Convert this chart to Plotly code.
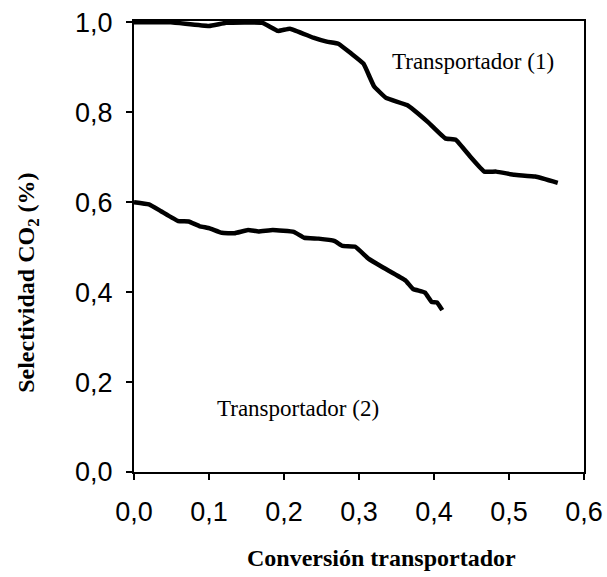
import plotly.graph_objects as go

# Transportador (1)
x1 = [0.0, 0.049, 0.10, 0.123, 0.171, 0.192, 0.208, 0.239, 0.257, 0.273, 0.290, 0.306,
      0.320, 0.336, 0.364, 0.392, 0.415, 0.429, 0.449, 0.467, 0.483, 0.507, 0.535, 0.565]
y1 = [1.0, 1.0, 0.992, 0.999, 0.999, 0.981, 0.986, 0.966, 0.957, 0.952, 0.930, 0.908,
      0.858, 0.832, 0.816, 0.778, 0.742, 0.739, 0.700, 0.668, 0.668, 0.661, 0.657, 0.643]

# Transportador (2)
x2 = [0.0, 0.020, 0.036, 0.059, 0.073, 0.087, 0.101, 0.117, 0.134, 0.152, 0.166, 0.185,
      0.213, 0.227, 0.246, 0.267, 0.278, 0.295, 0.313, 0.334, 0.362, 0.372, 0.388, 0.397,
      0.404, 0.411]
y2 = [0.600, 0.595, 0.580, 0.558, 0.557, 0.547, 0.542, 0.532, 0.531, 0.538, 0.535, 0.538,
      0.534, 0.521, 0.519, 0.514, 0.503, 0.501, 0.474, 0.453, 0.426, 0.407, 0.399, 0.378,
      0.377, 0.360]

xticks = [0.0, 0.1, 0.2, 0.3, 0.4, 0.5, 0.6]
xticklabels = ["0,0", "0,1", "0,2", "0,3", "0,4", "0,5", "0,6"]
yticks = [0.0, 0.2, 0.4, 0.6, 0.8, 1.0]
yticklabels = ["0,0", "0,2", "0,4", "0,6", "0,8", "1,0"]

fig = go.Figure()
for xs, ys in [(x1, y1), (x2, y2)]:
    fig.add_trace(go.Scatter(x=xs, y=ys, mode="lines",
                             line=dict(color="black", width=4.5, shape="spline", smoothing=0.3),
                             cliponaxis=False, showlegend=False, hoverinfo="skip"))

tickfont = dict(family="Liberation Sans, Arial", size=27, color="black")
axis_common = dict(showline=True, linecolor="black", linewidth=2, mirror=True,
                   ticks="outside", ticklen=6, tickwidth=2, tickcolor="black",
                   showgrid=False, zeroline=False, tickfont=tickfont, automargin=False,
                   ticklabeloverflow="allow")

fig.update_xaxes(range=[0, 0.6], tickvals=xticks, ticktext=xticklabels,
                 ticklabelstandoff=9, **axis_common)
fig.update_yaxes(range=[0, 1.003], tickvals=yticks, ticktext=yticklabels,
                 ticklabelstandoff=8, **axis_common)

serif = "Liberation Serif, Times New Roman"
fig.add_annotation(text="<b>Conversión transportador</b>", xref="paper", yref="paper",
                   x=0.549, y=-0.191, xanchor="center", yanchor="middle", showarrow=False,
                   font=dict(family=serif, size=24, color="black"))
fig.add_annotation(text="<b>Selectividad CO<sub>2</sub> (%)</b>", xref="paper", yref="paper",
                   x=-0.236, y=0.419, xanchor="center", yanchor="middle",
                   showarrow=False, textangle=-90,
                   font=dict(family=serif, size=24, color="black"))
fig.add_annotation(text="Transportador (1)", x=0.452, y=0.913, xanchor="center",
                   yanchor="middle", showarrow=False,
                   font=dict(family=serif, size=23, color="black"))
fig.add_annotation(text="Transportador (2)", x=0.219, y=0.142, xanchor="center",
                   yanchor="middle", showarrow=False,
                   font=dict(family=serif, size=23, color="black"))

fig.update_layout(width=607, height=577, margin=dict(l=134, r=23, t=21, b=105),
                  plot_bgcolor="white", paper_bgcolor="white")

fig.write_html("out.html", config={"displayModeBar": False},
               post_script="document.body.style.margin='0';"
                           "document.body.style.overflow='hidden';")
